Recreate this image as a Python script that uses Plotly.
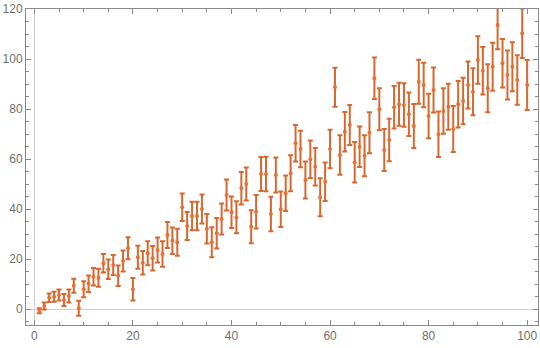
import plotly.graph_objects as go

x_values = list(range(1, 101))

y_values = [
    -0.7, 1.2, 4.5, 4.9, 5.6, 3.6, 5.2, 9.3, 0.3, 7.9,
    10.1, 12.9, 12.5, 18.3, 15.9, 17.6, 13.3, 19.2, 24.3, 7.9,
    20.7, 18.5, 22.3, 20.3, 23.6, 22.0, 29.6, 27.3, 26.7, 40.7,
    33.2, 37.2, 37.2, 40.0, 32.1, 26.7, 30.3, 36.0, 45.6, 38.7,
    36.7, 48.3, 50.0, 32.9, 38.9, 54.0, 54.0, 38.0, 53.6, 39.9,
    46.3, 54.3, 66.3, 64.0, 51.6, 59.9, 56.9, 44.7, 50.9, 64.0,
    88.7, 61.6, 70.9, 73.6, 58.7, 64.9, 61.3, 70.5, 92.3, 79.9,
    63.6, 67.6, 80.7, 81.9, 81.6, 77.9, 73.2, 90.9, 89.6, 77.2,
    87.6, 69.9, 79.2, 80.9, 72.0, 81.9, 83.2, 89.6, 86.9, 99.6,
    95.3, 88.3, 96.9, 113.6, 98.3, 93.6, 96.9, 91.6, 110.3, 89.6,
]

errors = [
    1.0, 1.4, 1.7, 2.0, 2.2, 2.4, 2.6, 2.8, 3.0, 3.2,
    3.3, 3.5, 3.6, 3.7, 3.9, 4.0, 4.1, 4.2, 4.4, 4.5,
    4.6, 4.7, 4.8, 4.9, 5.0, 5.1, 5.2, 5.3, 5.4, 5.5,
    5.6, 5.7, 5.7, 5.8, 5.9, 6.0, 6.1, 6.2, 6.2, 6.3,
    6.4, 6.5, 6.6, 6.6, 6.7, 6.8, 6.9, 6.9, 7.0, 7.1,
    7.1, 7.2, 7.3, 7.3, 7.4, 7.5, 7.5, 7.6, 7.7, 7.7,
    7.8, 7.9, 7.9, 8.0, 8.1, 8.1, 8.2, 8.2, 8.3, 8.4,
    8.4, 8.5, 8.5, 8.6, 8.7, 8.7, 8.8, 8.8, 8.9, 8.9,
    9.0, 9.1, 9.1, 9.2, 9.2, 9.3, 9.3, 9.4, 9.4, 9.5,
    9.5, 9.6, 9.6, 9.7, 9.7, 9.8, 9.8, 9.9, 9.9, 10.0,
]

x_ticks = [0, 20, 40, 60, 80, 100]
y_ticks = [0, 20, 40, 60, 80, 100, 120]

bar_color = "rgb(214,104,48)"
frame_color = "#8a8a8a"
tick_font = dict(family="Liberation Sans", size=12, color="#707070")

fig = go.Figure(
    go.Scatter(
        x=x_values,
        y=y_values,
        mode="markers",
        marker=dict(color="rgb(232,112,52)", size=4),
        error_y=dict(type="data", array=errors, visible=True,
                     color=bar_color, thickness=2, width=2.5),
        cliponaxis=True,
    )
)

axis_common = dict(
    showgrid=False,
    showline=True,
    linecolor=frame_color,
    linewidth=1,
    mirror="allticks",
    ticks="inside",
    ticklen=5,
    tickcolor=frame_color,
    tickfont=tick_font,
    zeroline=True,
    zerolinecolor="#cfcfcf",
    zerolinewidth=1,
)

fig.update_xaxes(
    range=[-1.7, 102.2],
    tickvals=x_ticks,
    minor=dict(dtick=5, tick0=0, ticks="inside", ticklen=3, tickcolor=frame_color, showgrid=False),
    **axis_common,
)
fig.update_yaxes(
    range=[-6.4, 120],
    tickvals=y_ticks,
    minor=dict(dtick=5, tick0=0, ticks="inside", ticklen=3, tickcolor=frame_color, showgrid=False),
    **axis_common,
)

fig.update_layout(
    width=540,
    height=348,
    margin=dict(l=26, r=2, t=9, b=23),
    paper_bgcolor="white",
    plot_bgcolor="white",
    showlegend=False,
)

fig.write_html("out.html")
